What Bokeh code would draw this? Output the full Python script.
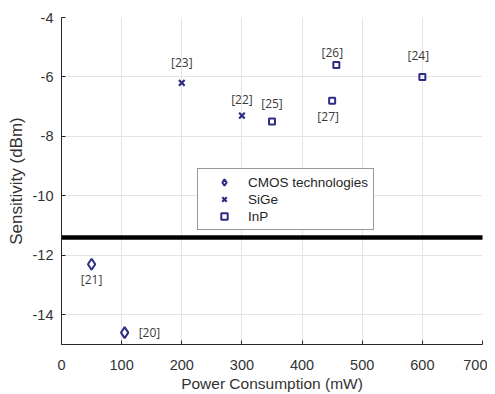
from bokeh.plotting import figure
from bokeh.models import Legend, LegendItem, Range1d, FixedTicker
from bokeh.embed import file_html
from bokeh.resources import INLINE
from bokeh.core.properties import value

# Data
cmos_power = [50, 105]
cmos_sens = [-12.3, -14.6]
cmos_refs = ["[21]", "[20]"]

sige_power = [200, 300]
sige_sens = [-6.2, -7.3]
sige_refs = ["[23]", "[22]"]

inp_power = [350, 457, 450, 600]
inp_sens = [-7.5, -5.6, -6.8, -6.0]
inp_refs = ["[25]", "[26]", "[27]", "[24]"]

threshold_power = [0, 700]
threshold_sens = [-11.4, -11.4]

x_ticks = [0, 100, 200, 300, 400, 500, 600, 700]
y_ticks = [-14, -12, -10, -8, -6, -4]

# label placement styles (pixel offsets)
cmos_off = [(0, 15, "center"), (14, 0, "left")]
sige_off = [(0, -20, "center"), (0, -16, "center")]
inp_off = [(0, -18, "center"), (-4, -13, "center"), (-4, 16, "center"), (-4, -21, "center")]

mc = "#2c2c86"
FONT = "Liberation Sans"
TXT = "#333333"

p = figure(width=487, height=394, output_backend="svg", toolbar_location=None,
           x_range=Range1d(0, 700), y_range=Range1d(-15, -4),
           min_border_left=61, min_border_right=5, min_border_top=17, min_border_bottom=48)
p.outline_line_color = None
p.background_fill_color = "white"
p.border_fill_color = "white"

for ax in (p.xaxis[0], p.yaxis[0]):
    ax.axis_line_color = "#262626"
    ax.major_tick_line_color = "#262626"
    ax.major_tick_in = 4
    ax.major_tick_out = 0
    ax.minor_tick_line_color = None
    ax.major_label_text_font = FONT
    ax.major_label_text_font_size = "14.5px"
    ax.major_label_text_color = TXT
    ax.axis_label_text_font = FONT
    ax.axis_label_text_font_size = "15.5px"
    ax.axis_label_text_font_style = "normal"
    ax.axis_label_text_color = TXT

p.yaxis.axis_label_text_font_size = "17px"
p.xaxis.ticker = FixedTicker(ticks=x_ticks)
p.yaxis.ticker = FixedTicker(ticks=y_ticks)
p.yaxis.major_label_overrides = {t: str(t) for t in y_ticks}
p.xaxis.major_label_overrides = {t: str(t) for t in x_ticks}
p.xaxis.axis_label = "Power Consumption (mW)"
p.yaxis.axis_label = "Sensitivity (dBm)"
p.xaxis.major_label_standoff = 15
p.xaxis.axis_label_standoff = 2
p.yaxis.major_label_standoff = 8
p.yaxis.axis_label_standoff = 4

p.xgrid.grid_line_color = "#e4e4e4"
p.ygrid.grid_line_color = "#e4e4e4"

p.line(threshold_power, threshold_sens, line_color="black", line_width=4.5, line_cap="round")

r1 = p.scatter(cmos_power, cmos_sens, marker="diamond", size=11, line_color=mc,
               fill_color=None, line_width=2)
r2 = p.scatter(sige_power, sige_sens, marker="x", size=8, line_color=mc, line_width=2.2)
r3 = p.scatter(inp_power, inp_sens, marker="square", size=6, line_color=mc,
               fill_color=None, line_width=2)

def labels(xs, ys, refs, offs):
    for x, y, t, o in zip(xs, ys, refs, offs):
        p.text([x], [y], text=[t], x_offset=o[0], y_offset=o[1], text_align=o[2],
               text_baseline="middle", text_font=value("Open Sans"),
               text_font_size="12px", text_color="#3a3a3a")

labels(cmos_power, cmos_sens, cmos_refs, cmos_off)
labels(sige_power, sige_sens, sige_refs, sige_off)
labels(inp_power, inp_sens, inp_refs, inp_off)

legend = Legend(items=[LegendItem(label="CMOS technologies", renderers=[r1]),
                       LegendItem(label="SiGe", renderers=[r2]),
                       LegendItem(label="InP", renderers=[r3])],
                location=(136, 114))
legend.label_text_font = FONT
legend.label_text_font_size = "13.5px"
legend.label_text_color = "#262626"
legend.border_line_color = "#333333"
legend.border_line_width = 1
legend.background_fill_alpha = 1
legend.glyph_width = 42
legend.glyph_height = 16
legend.label_height = 16
legend.spacing = 1
legend.padding = 5
legend.margin = 0
legend.label_standoff = 3
p.add_layout(legend, "center")

open("out.html", "w").write(file_html(p, INLINE))
